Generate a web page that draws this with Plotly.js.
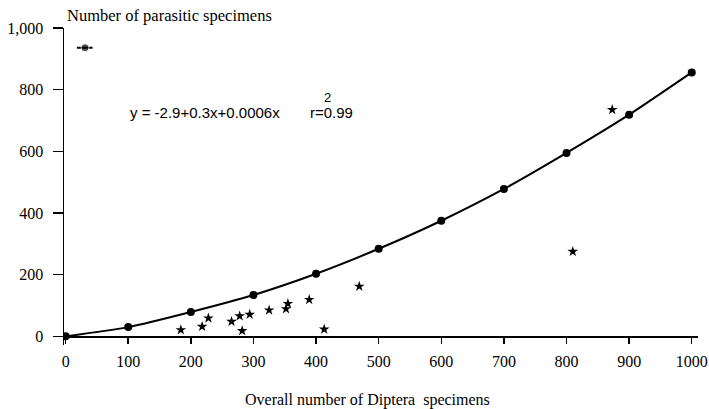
<!DOCTYPE html>
<html>
<head>
<meta charset="utf-8">
<script src="https://cdn.plot.ly/plotly-3.0.1.min.js"></script>
<style>
  html, body { margin: 0; padding: 0; background: #fff; }
  #chart { width: 709px; height: 409px; }
</style>
</head>
<body>
<div id="chart"></div>
<script>
// Fitted quadratic, sampled at every 100 Diptera specimens
const fitX = [0, 100, 200, 300, 400, 500, 600, 700, 800, 900, 1000];
const fitY = [0, 30, 79, 134, 203, 284, 375, 478, 595, 719, 856];

// Observed samples (Diptera count vs parasitic specimens)
const obsX = [184, 218, 228, 265, 278, 282, 294, 325, 352, 355, 389, 413, 469, 810, 873];
const obsY = [21, 32, 59, 48, 66, 18, 71, 85, 89, 106, 119, 23, 162, 275, 735];

// Key symbol for the fitted curve, top left
const keyX = [18, 31, 43];
const keyY = [936, 936, 936];

const xTicks = [0, 100, 200, 300, 400, 500, 600, 700, 800, 900, 1000];
const yTicks = [0, 200, 400, 600, 800, 1000];
const yTickText = ['0', '200', '400', '600', '800', '1,000'];

const serif = 'Liberation Serif';
const sans = 'Liberation Sans';

const traces = [
  {
    x: fitX, y: fitY, type: 'scatter', mode: 'lines+markers',
    line: { color: '#000', width: 2, shape: 'spline', smoothing: 0.6 },
    marker: { color: '#000', size: 8, symbol: 'circle' },
    hoverinfo: 'x+y'
  },
  {
    x: obsX, y: obsY, type: 'scatter', mode: 'markers',
    marker: { color: '#000', size: 8, symbol: 'star' },
    hoverinfo: 'x+y'
  },
  {
    x: keyX, y: keyY, type: 'scatter', mode: 'lines+markers',
    line: { color: '#000', width: 2 },
    marker: { color: '#000', size: [0, 8, 0], symbol: 'circle' },
    hoverinfo: 'skip'
  }
];

const tickFont = { family: serif, size: 16, color: '#000', weight: 'normal' };

const layout = {
  width: 709, height: 409,
  margin: { l: 64, r: 11, t: 28, b: 64 },
  paper_bgcolor: '#fff', plot_bgcolor: '#fff',
  showlegend: false,
  font: { family: serif, color: '#000', size: 16 },
  xaxis: {
    range: [-2.6, 1010],
    tickmode: 'array',
    tickvals: xTicks,
    ticktext: xTicks.map(String),
    showgrid: false, zeroline: false,
    showline: true, linecolor: '#000', linewidth: 1.5,
    ticks: 'outside', ticklen: 6, tickwidth: 1.5, tickcolor: '#000',
    anchor: 'free', position: 28 / 1028,
    ticklabelstandoff: 4,
    tickfont: tickFont
  },
  yaxis: {
    range: [-28, 1000],
    tickmode: 'array',
    tickvals: yTicks,
    ticktext: yTickText,
    showgrid: false, zeroline: false,
    showline: true, linecolor: '#000', linewidth: 1.5,
    ticks: 'outside', ticklen: 10, tickwidth: 1.5, tickcolor: '#000',
    ticklabelstandoff: 6,
    tickfont: tickFont
  },
  annotations: [
    {
      text: 'Number of parasitic specimens', xref: 'paper', yref: 'paper',
      x: 0.0016, y: 1.041, xanchor: 'left', yanchor: 'middle', showarrow: false,
      font: { family: serif, size: 16.5, color: '#000' }
    },
    {
      text: 'Overall number of Diptera&nbsp; specimens', xref: 'paper', yref: 'paper',
      x: 0.479, y: -0.1735, xanchor: 'center', yanchor: 'middle', showarrow: false,
      font: { family: serif, size: 16, color: '#000' }
    },
    {
      text: 'y = -2.9+0.3x+0.0006x', xref: 'paper', yref: 'paper',
      x: 0.101, y: 0.735, xanchor: 'left', yanchor: 'middle', showarrow: false,
      font: { family: sans, size: 15, color: '#000' }
    },
    {
      text: 'r=0.99', xref: 'paper', yref: 'paper',
      x: 0.385, y: 0.735, xanchor: 'left', yanchor: 'middle', showarrow: false,
      font: { family: sans, size: 15, color: '#000' }
    },
    {
      text: '2', xref: 'paper', yref: 'paper',
      x: 0.416, y: 0.782, xanchor: 'center', yanchor: 'middle', showarrow: false,
      font: { family: sans, size: 13, color: '#000' }
    }
  ]
};

Plotly.newPlot('chart', traces, layout, { staticPlot: true, displayModeBar: false });
</script>
</body>
</html>
